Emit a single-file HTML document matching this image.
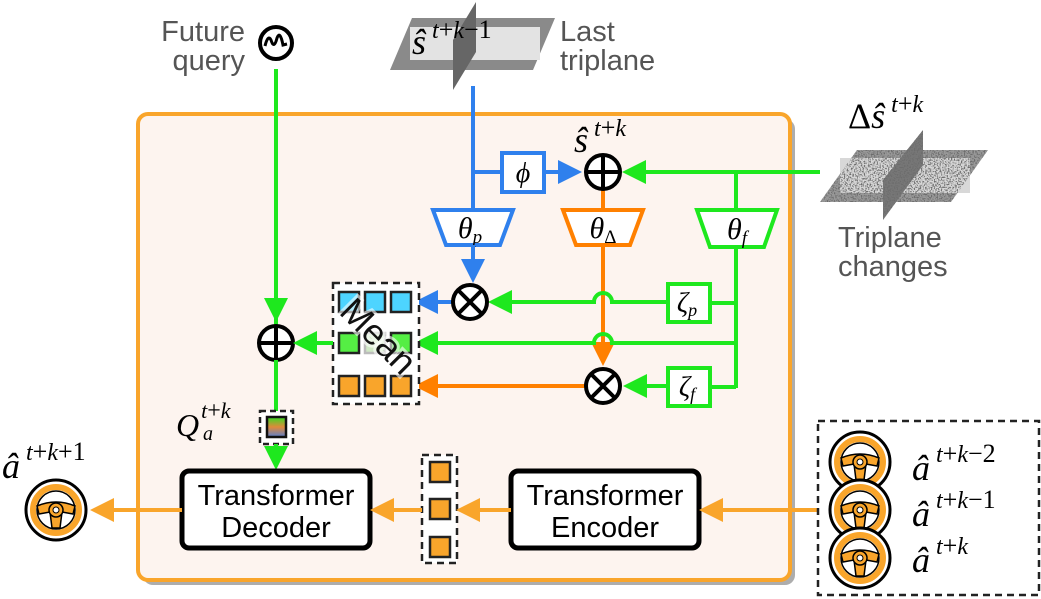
<!DOCTYPE html>
<html><head><meta charset="utf-8"><style>
html,body{margin:0;padding:0;background:#fff;}
svg{display:block;}
.g{font-family:"Liberation Sans",sans-serif;fill:#555;font-size:29px;}
.m{font-family:"Liberation Serif",serif;font-style:italic;fill:#000;}
.t{font-family:"Liberation Sans",sans-serif;fill:#000;font-size:29px;text-anchor:middle;}
.sup{font-family:"Liberation Serif",serif;fill:#000;}
</style></head><body>
<svg width="1041" height="599" viewBox="0 0 1041 599" xmlns="http://www.w3.org/2000/svg">
<defs>
<marker id="ag" markerWidth="6" markerHeight="6" refX="5" refY="3" orient="auto" markerUnits="strokeWidth"><path d="M0,0 L6,3 L0,6z" fill="#1ee81e"/></marker>
<marker id="ab" markerWidth="6" markerHeight="6" refX="5" refY="3" orient="auto" markerUnits="strokeWidth"><path d="M0,0 L6,3 L0,6z" fill="#2f80ed"/></marker>
<marker id="ao" markerWidth="6" markerHeight="6" refX="5" refY="3" orient="auto" markerUnits="strokeWidth"><path d="M0,0 L6,3 L0,6z" fill="#ff8000"/></marker>
<marker id="ay" markerWidth="6" markerHeight="6" refX="5" refY="3" orient="auto" markerUnits="strokeWidth"><path d="M0,0 L6,3 L0,6z" fill="#f9a52b"/></marker>
<filter id="nz" x="0" y="0" width="100%" height="100%"><feTurbulence type="fractalNoise" baseFrequency="0.7" numOctaves="1" seed="3"/><feColorMatrix type="matrix" values="0 0 0 0 0.15  0 0 0 0 0.15  0 0 0 0 0.15  5 0 0 0 -2.3"/><feComposite in2="SourceGraphic" operator="in"/></filter>
<linearGradient id="qg" x1="0" y1="0" x2="0" y2="1"><stop offset="0" stop-color="#33dd22"/><stop offset="0.5" stop-color="#e08a3a"/><stop offset="1" stop-color="#5a7fd0"/></linearGradient>
<g id="wheel">
<circle r="30" fill="#fff" stroke="#000" stroke-width="3"/>
<circle r="23" fill="none" stroke="#f9a52b" stroke-width="6"/>
<circle r="19" fill="#fff" stroke="#000" stroke-width="1.5"/>
<path d="M-19,-4 Q0,-12 19,-4 L17,4 L6,2 L4,18 L-4,18 L-6,2 L-17,4z" fill="#f9a52b" stroke="#000" stroke-width="1.5"/>
<circle r="7" fill="#f9a52b" stroke="#000" stroke-width="1.5"/><circle r="3" fill="#fff" stroke="#000" stroke-width="1"/>
</g>
</defs>

<rect x="143" y="119" width="652" height="466" rx="10" fill="#777" opacity="0.6"/>
<rect x="138" y="114" width="652" height="466" rx="10" fill="#fdf4ef" stroke="#f9a52b" stroke-width="4"/>

<text class="g" x="245" y="41" text-anchor="end">Future</text>
<text class="g" x="245" y="70" text-anchor="end">query</text>
<circle cx="276" cy="43" r="16" fill="#fff" stroke="#000" stroke-width="4"/>
<path d="M265,46 Q268,34 271,40 Q274,50 277,38 Q280,30 283,45 L287,44" fill="none" stroke="#000" stroke-width="3"/>
<line x1="276" y1="69" x2="276" y2="327" stroke="#1ee81e" stroke-width="4"/>
<line x1="276" y1="302" x2="276" y2="318" stroke="#1ee81e" stroke-width="4" marker-end="url(#ag)"/>

<polygon points="390,70 412,18 555,18 533,70" fill="#8a8a8a"/>
<rect x="410" y="27" width="130" height="33" fill="#e3e3e3"/>
<polygon points="453,90 453,40 476,2 476,52" fill="#666"/>
<text x="412" y="54" class="sup"><tspan font-size="36" font-style="italic">ŝ</tspan><tspan font-size="24" dy="-16" dx="6" font-style="italic">t</tspan><tspan font-size="26">+</tspan><tspan font-size="24" font-style="italic">k</tspan><tspan font-size="26">−1</tspan></text>
<text class="g" x="560" y="41">Last</text>
<text class="g" x="560" y="70">triplane</text>

<line x1="473" y1="86" x2="473" y2="210" stroke="#2f80ed" stroke-width="4"/>
<line x1="473" y1="172" x2="502" y2="172" stroke="#2f80ed" stroke-width="4"/>
<rect x="502" y="153" width="42" height="39" fill="#fff" stroke="#2f80ed" stroke-width="4"/>
<text class="m" x="523" y="182" font-size="28" text-anchor="middle">ϕ</text>
<line x1="544" y1="172" x2="578" y2="172" stroke="#2f80ed" stroke-width="4" marker-end="url(#ab)"/>
<polygon points="433,210 513,210 500,245 446,245" fill="#fff" stroke="#2f80ed" stroke-width="4"/>
<text class="m" x="470" y="238" font-size="30" text-anchor="middle">θ<tspan font-size="19" dy="5">p</tspan></text>
<line x1="473" y1="245" x2="473" y2="279" stroke="#2f80ed" stroke-width="4" marker-end="url(#ab)"/>
<line x1="453" y1="302" x2="418" y2="302" stroke="#2f80ed" stroke-width="4" marker-end="url(#ab)"/>

<text x="574" y="152" class="sup"><tspan font-size="36" font-style="italic">ŝ</tspan><tspan font-size="24" dy="-16" dx="6" font-style="italic">t</tspan><tspan font-size="26">+</tspan><tspan font-size="24" font-style="italic">k</tspan></text>

<line x1="603" y1="188" x2="603" y2="212" stroke="#ff8000" stroke-width="4"/>
<polygon points="563,210 643,210 630,245 576,245" fill="#fff" stroke="#ff8000" stroke-width="4"/>
<text class="m" x="603" y="238" font-size="30" text-anchor="middle">θ<tspan font-size="19" dy="5" font-style="normal">Δ</tspan></text>
<line x1="603" y1="245" x2="603" y2="362" stroke="#ff8000" stroke-width="4" marker-end="url(#ao)"/>
<line x1="585" y1="386" x2="418" y2="386" stroke="#ff8000" stroke-width="4" marker-end="url(#ao)"/>

<line x1="820" y1="172" x2="626" y2="172" stroke="#1ee81e" stroke-width="4" marker-end="url(#ag)"/>
<line x1="736" y1="172" x2="736" y2="212" stroke="#1ee81e" stroke-width="4"/>
<polygon points="697,210 777,210 764,247 710,247" fill="#fff" stroke="#1ee81e" stroke-width="4"/>
<text class="m" x="737" y="239" font-size="30" text-anchor="middle">θ<tspan font-size="19" dy="5">f</tspan></text>
<line x1="736" y1="247" x2="736" y2="388" stroke="#1ee81e" stroke-width="4"/>
<line x1="710" y1="303" x2="736" y2="303" stroke="#1ee81e" stroke-width="4"/>
<line x1="710" y1="387" x2="736" y2="387" stroke="#1ee81e" stroke-width="4"/>
<rect x="668" y="284" width="42" height="38" fill="#fff" stroke="#1ee81e" stroke-width="4"/>
<text class="m" x="687" y="312" font-size="28" text-anchor="middle">ζ<tspan font-size="18" dy="4">p</tspan></text>
<rect x="668" y="368" width="42" height="38" fill="#fff" stroke="#1ee81e" stroke-width="4"/>
<text class="m" x="687" y="396" font-size="28" text-anchor="middle">ζ<tspan font-size="18" dy="4">f</tspan></text>
<path d="M668,302 L612,302 A9,9 0 0 0 594,302 L492,302" fill="none" stroke="#1ee81e" stroke-width="4" marker-end="url(#ag)"/>
<path d="M736,343 L612,343 A9,9 0 0 0 594,343 L418,343" fill="none" stroke="#1ee81e" stroke-width="4" marker-end="url(#ag)"/>
<line x1="668" y1="386" x2="627" y2="386" stroke="#1ee81e" stroke-width="4" marker-end="url(#ag)"/>

<g stroke="#000" stroke-width="4" fill="#fff">
<circle cx="603" cy="172" r="17"/><path d="M586,172h34M603,155v34"/>
<circle cx="470" cy="302" r="17"/><path d="M458,290l24,24M482,290l-24,24"/>
<circle cx="603" cy="386" r="17"/><path d="M591,374l24,24M615,374l-24,24"/>
<circle cx="276" cy="343" r="17"/><path d="M259,343h34M276,326v34"/>
</g>

<rect x="333" y="283" width="86" height="121" fill="#fff" stroke="#222" stroke-width="2.5" stroke-dasharray="7,5"/>
<g stroke="#222" stroke-width="2.5">
<rect x="339" y="292" width="20" height="20" fill="#4dd4ff"/><rect x="365" y="292" width="20" height="20" fill="#4dd4ff"/><rect x="391" y="292" width="20" height="20" fill="#4dd4ff"/>
<rect x="339" y="333" width="20" height="20" fill="#55ee44"/><rect x="365" y="333" width="20" height="20" fill="#cfe8c5" stroke="#bbb"/><rect x="391" y="333" width="20" height="20" fill="#55ee44"/>
<rect x="339" y="376" width="20" height="20" fill="#f9a52b"/><rect x="365" y="376" width="20" height="20" fill="#f9a52b"/><rect x="391" y="376" width="20" height="20" fill="#f9a52b"/>
</g>
<text transform="translate(338,313) rotate(45)" font-family="Liberation Sans" font-size="36" fill="#111" stroke="#fff" stroke-width="6" stroke-opacity="0.6" paint-order="stroke">Mean</text>
<line x1="333" y1="343" x2="297" y2="343" stroke="#1ee81e" stroke-width="4" marker-end="url(#ag)"/>

<line x1="276" y1="360" x2="276" y2="412" stroke="#1ee81e" stroke-width="4"/>
<text x="176" y="436" class="sup"><tspan font-size="32" font-style="italic">Q</tspan><tspan font-size="22" dy="-18" dx="2" font-style="italic">t</tspan><tspan font-size="24">+</tspan><tspan font-size="22" font-style="italic">k</tspan></text>
<text class="m" x="203" y="440" font-size="20">a</text>
<rect x="260" y="411" width="33" height="33" fill="#fff" stroke="#222" stroke-width="2.5" stroke-dasharray="6,4"/>
<rect x="267" y="417" width="19" height="20" fill="url(#qg)" stroke="#111" stroke-width="2.5"/>
<line x1="276" y1="444" x2="276" y2="466" stroke="#1ee81e" stroke-width="4" marker-end="url(#ag)"/>

<rect x="182" y="471" width="188" height="77" rx="7" fill="#fff" stroke="#000" stroke-width="5"/>
<text class="t" x="276" y="505">Transformer</text><text class="t" x="276" y="537">Decoder</text>
<rect x="511" y="471" width="188" height="77" rx="7" fill="#fff" stroke="#000" stroke-width="5"/>
<text class="t" x="605" y="505">Transformer</text><text class="t" x="605" y="537">Encoder</text>
<rect x="422" y="455" width="35" height="108" fill="#fff" stroke="#222" stroke-width="2.5" stroke-dasharray="7,5"/>
<g fill="#f9a52b" stroke="#222" stroke-width="2.5"><rect x="430" y="462" width="20" height="20"/><rect x="430" y="499" width="20" height="20"/><rect x="430" y="537" width="20" height="20"/></g>
<line x1="818" y1="510" x2="703" y2="510" stroke="#f9a52b" stroke-width="4" marker-end="url(#ay)"/>
<line x1="511" y1="510" x2="460" y2="510" stroke="#f9a52b" stroke-width="4" marker-end="url(#ay)"/>
<line x1="422" y1="510" x2="374" y2="510" stroke="#f9a52b" stroke-width="4" marker-end="url(#ay)"/>
<line x1="182" y1="510" x2="94" y2="510" stroke="#f9a52b" stroke-width="4" marker-end="url(#ay)"/>

<use href="#wheel" x="56" y="510"/>
<text x="2" y="478" class="sup"><tspan font-size="36" font-style="italic">â</tspan><tspan font-size="24" dy="-18" dx="6" font-style="italic">t</tspan><tspan font-size="26">+</tspan><tspan font-size="24" font-style="italic">k</tspan><tspan font-size="26">+1</tspan></text>

<rect x="818" y="421" width="221" height="174" fill="#fff" stroke="#222" stroke-width="2.5" stroke-dasharray="7,5"/>
<use href="#wheel" x="860" y="462"/>
<use href="#wheel" x="860" y="510"/>
<use href="#wheel" x="860" y="558"/>
<text x="912" y="480" class="sup"><tspan font-size="36" font-style="italic">â</tspan><tspan font-size="24" dy="-18" dx="6" font-style="italic">t</tspan><tspan font-size="26">+</tspan><tspan font-size="24" font-style="italic">k</tspan><tspan font-size="26">−2</tspan></text>
<text x="912" y="526" class="sup"><tspan font-size="36" font-style="italic">â</tspan><tspan font-size="24" dy="-18" dx="6" font-style="italic">t</tspan><tspan font-size="26">+</tspan><tspan font-size="24" font-style="italic">k</tspan><tspan font-size="26">−1</tspan></text>
<text x="912" y="572" class="sup"><tspan font-size="36" font-style="italic">â</tspan><tspan font-size="24" dy="-18" dx="6" font-style="italic">t</tspan><tspan font-size="26">+</tspan><tspan font-size="24" font-style="italic">k</tspan></text>

<text x="848" y="128" class="sup"><tspan font-size="36">Δ</tspan><tspan font-size="36" font-style="italic">ŝ</tspan><tspan font-size="24" dy="-16" dx="6" font-style="italic">t</tspan><tspan font-size="26">+</tspan><tspan font-size="24" font-style="italic">k</tspan></text>
<polygon points="820,202 857,150 988,150 951,202" fill="#999"/>
<rect x="840" y="158" width="130" height="35" fill="#d8d8d8"/>
<polygon points="883,220 883,180 923,130 923,165" fill="#777"/>
<g filter="url(#nz)"><rect x="818" y="128" width="172" height="94" fill="#000" opacity="0"/><polygon points="820,202 857,150 988,150 951,202" fill="#000"/><polygon points="883,220 883,180 923,130 923,165" fill="#000"/></g>
<text class="g" x="838" y="247">Triplane</text>
<text class="g" x="838" y="276">changes</text>
</svg>
</body></html>
